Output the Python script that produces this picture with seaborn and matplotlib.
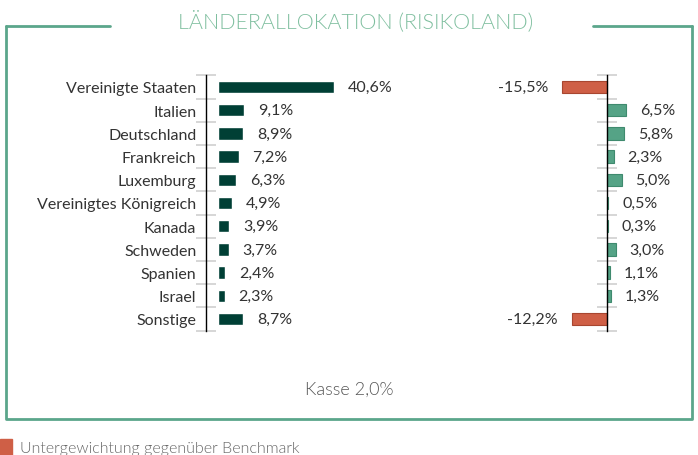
import numpy as np
import pandas as pd
import seaborn as sns
import matplotlib
matplotlib.use('Agg')
import matplotlib.pyplot as plt
from matplotlib.lines import Line2D
from matplotlib.patches import Rectangle

# data
countries = ['Vereinigte Staaten', 'Italien', 'Deutschland', 'Frankreich', 'Luxemburg',
             'Vereinigtes Königreich', 'Kanada', 'Schweden', 'Spanien', 'Israel', 'Sonstige']
allocation = [40.6, 9.1, 8.9, 7.2, 6.3, 4.9, 3.9, 3.7, 2.4, 2.3, 8.7]
active_weight = [-15.5, 6.5, 5.8, 2.3, 5.0, 0.5, 0.3, 3.0, 1.1, 1.3, -12.2]
cash_label = 'Kasse 2,0%'
title = 'LÄNDERALLOKATION (RISIKOLAND)'
legend_label = 'Untergewichtung gegenüber Benchmark'

DARK = '#003f35'
GREEN = '#55a386'
GREEN_EDGE = '#3f8a6e'
RED = '#cf5f46'
RED_EDGE = '#a84630'
FRAME = '#5ba68b'
TEXT = '#333333'
LIGHT = 300  # Lato Light

sns.set_theme(style='white')
plt.rcParams['font.family'] = ['Lato', 'DejaVu Sans']

W, H = 698, 456
fig = plt.figure(figsize=(W / 100, H / 100), dpi=100)


def px_rect(x0, y0, x1, y1):
    # pixel box (top-left origin) -> figure fraction rect
    return [x0 / W, 1 - y1 / H, (x1 - x0) / W, (y1 - y0) / H]


def fmt(v):
    return f'{v:.1f}%'.replace('.', ',')


def style_axis(ax):
    ax.set_ylim(len(countries) - 0.5, -0.5)
    for s in ['top', 'right', 'bottom']:
        ax.spines[s].set_visible(False)
    ax.spines['left'].set_color('black')
    ax.spines['left'].set_linewidth(1.0)
    ax.set_xticks([])
    ax.set_xlabel('')
    ax.set_ylabel('')
    ax.set_yticks(np.arange(len(countries) + 1) - 0.5, minor=True)
    ax.tick_params(axis='y', which='minor', left=True, direction='inout', length=14.5,
                   width=1.3, color='#d3d3d3')
    ax.tick_params(axis='y', which='major', left=True, length=0, pad=7)
    ax.set_facecolor('none')


TOP, BOTTOM = 76.4, 331.6

# left: absolute allocation
ax1 = fig.add_axes(px_rect(206, TOP, 430, BOTTOM))
df = pd.DataFrame({'Land': countries, 'Anteil': allocation, 'Aktiv': active_weight})
sns.barplot(data=df, x='Anteil', y='Land', orient='h', color=DARK, width=0.53,
            saturation=1, ax=ax1)
ax1.set_xlim(-4.2, (430 - 218) / 2.86)
style_axis(ax1)
ax1.set_yticklabels(countries, fontsize=11.5, color=TEXT)
for i, v in enumerate(allocation):
    ax1.annotate(fmt(v), (v, i), xytext=(10, 0), textcoords='offset points',
                 ha='left', va='center', fontsize=11.5, color=TEXT)

# right: over-/underweight vs benchmark
ax2 = fig.add_axes(px_rect(540, TOP, 690, BOTTOM))
colors = [RED if v < 0 else GREEN for v in active_weight]
edges = [RED_EDGE if v < 0 else GREEN_EDGE for v in active_weight]
sns.barplot(data=df, x='Aktiv', y='Land', orient='h', hue='Land', palette=colors,
            width=0.53, saturation=1, legend=False, ax=ax2)
for patch, ec in zip(ax2.patches, edges):
    patch.set_edgecolor(ec)
    patch.set_linewidth(0.8)
ax2.set_xlim((540 - 607) / 2.9, (690 - 607) / 2.9)
style_axis(ax2)
ax2.spines['left'].set_position(('data', 0))
ax2.set_yticklabels([])
for i, v in enumerate(active_weight):
    off = 10 if v >= 0 else -10
    ax2.annotate(fmt(v), (v, i), xytext=(off, 0), textcoords='offset points',
                 ha='left' if v >= 0 else 'right', va='center', fontsize=11.5, color=TEXT)

# frame with gap for the title
frame_kw = dict(color=FRAME, linewidth=2.0, transform=None)
for xs, ys in [([6, 6, 692, 692], [27, 420, 420, 27]), ([6, 110], [27, 27]), ([593, 692], [27, 27])]:
    fig.add_artist(Line2D([x for x in xs], [H - y for y in ys], **frame_kw))

fig.text(356 / W, 1 - 21 / H, title, ha='center', va='center', fontsize=15.5,
         fontweight=LIGHT, color='#7fbf9f')
fig.text(349 / W, 1 - 390 / H, cash_label, ha='center', va='center', fontsize=13,
         fontweight=LIGHT, color='#555555')
fig.add_artist(Rectangle((0, 0), 12 / W, 16 / H, color=RED, transform=fig.transFigure))
fig.text(20 / W, 1 - 449 / H, legend_label, ha='left', va='center', fontsize=11.5,
         fontweight=LIGHT, color='#666666')

fig.savefig('out.png', dpi=100)
plt.close(fig)
